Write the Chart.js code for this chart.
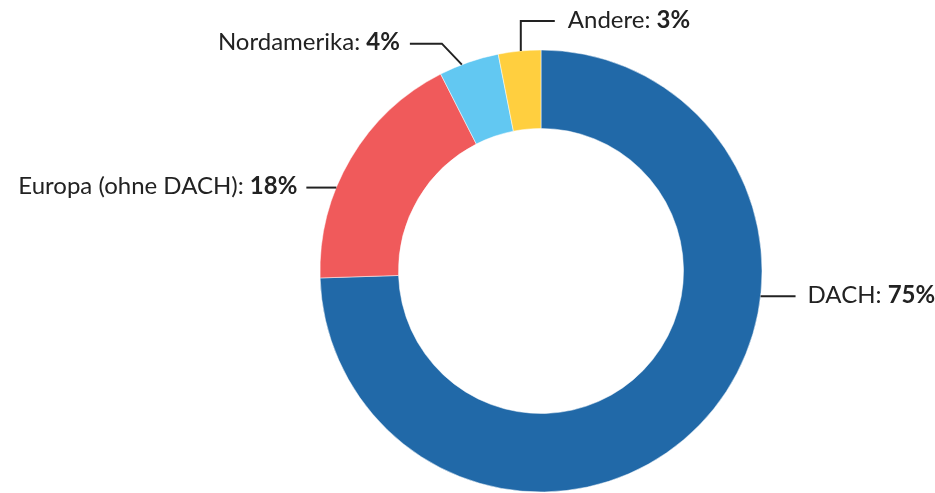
<!DOCTYPE html>
<html><head><meta charset="utf-8">
<script src="https://cdn.jsdelivr.net/npm/chart.js@4/dist/chart.umd.min.js"></script>
<style>html,body{margin:0;padding:0;background:#fff}#wrap{width:935px;height:493px;position:relative}</style>
</head><body><div id="wrap"><canvas id="c" width="935" height="493"></canvas></div>
<script>
const categories = ["DACH", "Europa (ohne DACH)", "Nordamerika", "Andere"];
const shares = [74.5, 18.0, 4.4, 3.1];
const shareLabels = ["75%", "18%", "4%", "3%"];
const colors = ["#2169A8", "#F05A5B", "#62C8F2", "#FFCF3F"];

// leader-line layout per label (styling only)
const leaders = [
  {frac: 0.36, pts: [[35, 0]], side: 'right', gap: 12},
  {frac: 0.37, pts: [[-30, 0]], side: 'left', gap: 9},
  {frac: 0.38, pts: [[-20, -21], [-52, -21]], side: 'left', gap: 10},
  {frac: 0.53, pts: [[0, -30], [34, -30]], side: 'right', gap: 13}
];
const FONT = 'Lato';
const FSIZE = 24;

const labelPlugin = {
  id: 'leaderLabels',
  afterDraw(chart) {
    const ctx = chart.ctx;
    const meta = chart.getDatasetMeta(0);
    meta.data.forEach((arc, i) => {
      const L = leaders[i];
      const a = arc.startAngle + (arc.endAngle - arc.startAngle) * L.frac;
      const r = arc.outerRadius;
      const x0 = arc.x + Math.cos(a) * r;
      const y0 = arc.y + Math.sin(a) * r;
      ctx.save();
      ctx.strokeStyle = '#222';
      ctx.lineWidth = 2;
      ctx.beginPath();
      ctx.moveTo(x0, y0);
      let ex = x0, ey = y0;
      L.pts.forEach(p => { ex = x0 + p[0]; ey = y0 + p[1]; ctx.lineTo(ex, ey); });
      ctx.stroke();
      const t1 = categories[i] + ': ';
      const t2 = shareLabels[i];
      ctx.textBaseline = 'middle';
      ctx.fillStyle = '#222';
      ctx.font = 'normal ' + FSIZE + 'px ' + FONT;
      const w1 = ctx.measureText(t1).width;
      ctx.font = 'bold ' + FSIZE + 'px ' + FONT;
      const w2 = ctx.measureText(t2).width;
      let tx = L.side === 'right' ? ex + L.gap : ex - L.gap - w1 - w2;
      const ty = ey - 1;
      ctx.textAlign = 'left';
      ctx.font = 'normal ' + FSIZE + 'px ' + FONT;
      ctx.fillText(t1, tx, ty);
      ctx.font = 'bold ' + FSIZE + 'px ' + FONT;
      ctx.fillText(t2, tx + w1, ty);
      ctx.restore();
    });
  }
};

new Chart(document.getElementById('c'), {
  type: 'doughnut',
  data: {
    labels: categories,
    datasets: [{
      data: shares,
      backgroundColor: colors,
      borderColor: '#ffffff',
      borderWidth: 0.5,
      hoverOffset: 0
    }]
  },
  options: {
    responsive: false,
    animation: false,
    radius: 221,
    cutout: 143,
    layout: {padding: {left: 147, top: 49, right: 0, bottom: 0}},
    plugins: {legend: {display: false}, tooltip: {enabled: false}}
  },
  plugins: [labelPlugin]
});
</script>
</body></html>
